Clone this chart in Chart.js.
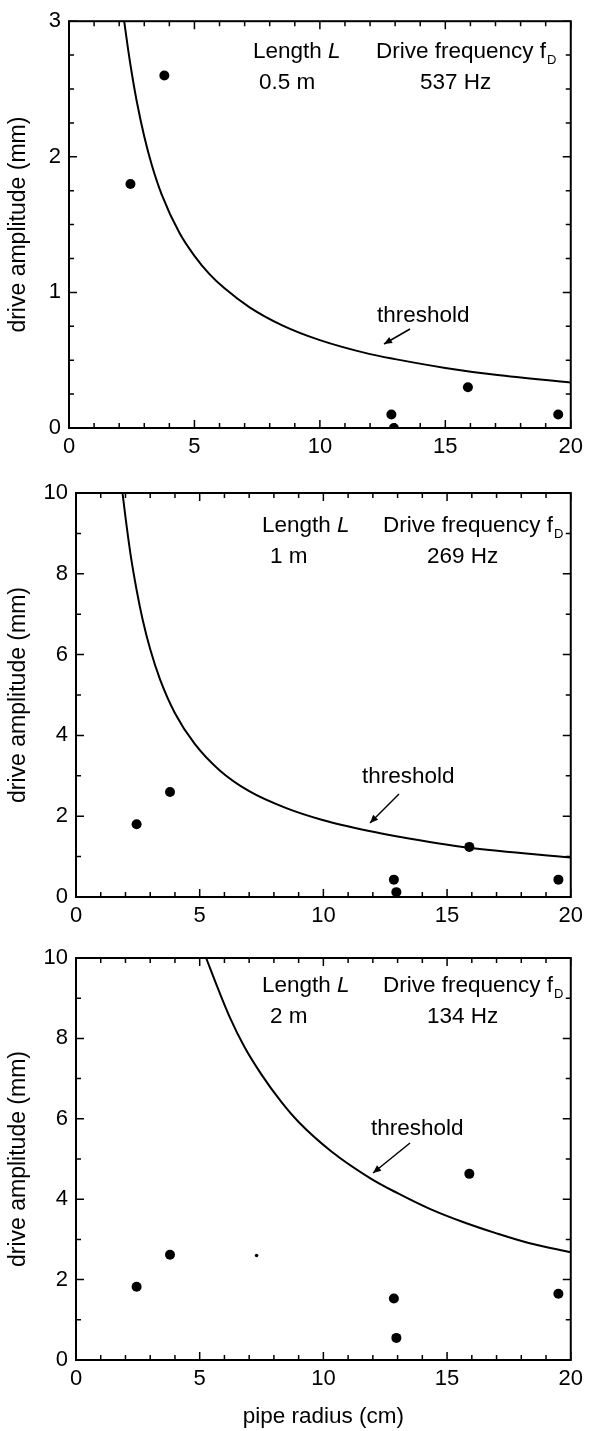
<!DOCTYPE html>
<html>
<head>
<meta charset="utf-8">
<script src="https://cdn.jsdelivr.net/npm/chart.js@4/dist/chart.umd.min.js"></script>
<style>
html,body{margin:0;padding:0;background:#fff;}
body{width:589px;height:1431px;position:relative;overflow:hidden;}
canvas{position:absolute;left:0;}
</style>
</head>
<body>
<canvas id="c1" width="589" height="470" style="top:0px"></canvas>
<canvas id="c2" width="589" height="465" style="top:470px"></canvas>
<canvas id="c3" width="589" height="496" style="top:935px"></canvas>
<script>
// ---------- data ----------
const xTickLabels = [0, 5, 10, 15, 20];
const panelLengths = ['0.5 m', '1 m', '2 m'];
const panelFreqs = ['537 Hz', '269 Hz', '134 Hz'];

// Panel 1: L = 0.5 m, fD = 537 Hz
const p1CurveRadius = [2.2, 2.35, 2.5, 2.7, 3.0, 3.3, 3.7, 4.4, 5.0, 5.6, 6.2, 7.2, 8.5, 10, 12, 13, 15, 17, 20];
const p1CurveAmp    = [3.0, 2.8, 2.62, 2.41, 2.15, 1.94, 1.72, 1.44, 1.27, 1.135, 1.03, 0.89, 0.757, 0.648, 0.545, 0.508, 0.443, 0.392, 0.336];
const p1PtRadius = [2.45, 3.8, 12.85, 12.95, 15.9, 19.5];
const p1PtAmp    = [1.8, 2.6, 0.1, 0.0, 0.3, 0.1];

// Panel 2: L = 1 m, fD = 269 Hz
const p2CurveRadius = [1.88, 2.0, 2.2, 2.45, 2.7, 3.0, 3.4, 4.0, 4.8, 5.8, 7.0, 8.5, 10, 11.8, 13, 15.9, 20];
const p2CurveAmp    = [10, 9.4, 8.5, 7.6, 6.85, 6.13, 5.38, 4.55, 3.79, 3.14, 2.62, 2.2, 1.9, 1.64, 1.5, 1.22, 0.98];
const p2PtRadius = [2.45, 3.8, 12.85, 12.95, 15.9, 19.5];
const p2PtAmp    = [1.8, 2.6, 0.43, 0.12, 1.24, 0.43];

// Panel 3: L = 2 m, fD = 134 Hz
const p3CurveRadius = [5.26, 5.7, 6.2, 6.8, 7.5, 8.3, 9.0, 10.3, 11.9, 13, 14.3, 15.7, 17, 18.3, 20];
const p3CurveAmp    = [10, 9.3, 8.55, 7.8, 7.1, 6.42, 5.92, 5.2, 4.52, 4.15, 3.76, 3.42, 3.15, 2.91, 2.68];
const p3PtRadius = [2.45, 3.8, 12.85, 12.95, 15.9, 19.5];
const p3PtAmp    = [1.82, 2.62, 1.53, 0.55, 4.63, 1.65];
const p3SpeckRadius = [7.3];
const p3SpeckAmp    = [2.6];

// ---------- rendering ----------
const FONT = "'Liberation Sans', Arial, Helvetica, sans-serif";
Chart.defaults.font.family = FONT;
Chart.defaults.color = '#000';

const toXY = (xs, ys) => xs.map((x, i) => ({x: x, y: ys[i]}));

const framePlugin = {
  id: 'frame',
  afterDraw(chart, args, opts) {
    const {ctx, chartArea: a} = chart;
    const xs = chart.scales.x, ys = chart.scales.y;
    const MAJ = 8, MIN = 5;
    ctx.save();
    ctx.strokeStyle = '#000';
    ctx.lineWidth = 1.5;
    ctx.beginPath();
    xs.ticks.forEach(t => {
      const p = xs.getPixelForValue(t.value);
      const len = (t.label !== '' && t.label != null) ? MAJ : MIN;
      ctx.moveTo(p, a.bottom); ctx.lineTo(p, a.bottom - len);
      ctx.moveTo(p, a.top); ctx.lineTo(p, a.top + len);
    });
    ys.ticks.forEach(t => {
      const p = ys.getPixelForValue(t.value);
      const len = (t.label !== '' && t.label != null) ? MAJ : MIN;
      ctx.moveTo(a.left, p); ctx.lineTo(a.left + len, p);
      ctx.moveTo(a.right, p); ctx.lineTo(a.right - len, p);
    });
    ctx.stroke();
    ctx.lineWidth = 2;
    ctx.strokeRect(a.left, a.top, a.right - a.left, a.bottom - a.top);

    const n = opts.notes;
    if (n) {
      const T = opts.top;
      ctx.fillStyle = '#000';
      ctx.textBaseline = 'alphabetic';
      ctx.textAlign = 'left';
      const F = 22.5;
      ctx.font = F + 'px ' + FONT;
      const w1 = ctx.measureText('Length ').width;
      ctx.fillText('Length ', n.lenX, n.base1 - T);
      ctx.font = 'italic ' + F + 'px ' + FONT;
      ctx.fillText('L', n.lenX + w1, n.base1 - T);
      ctx.font = F + 'px ' + FONT;
      ctx.fillText(n.len, n.valX, n.base2 - T);
      const w2 = ctx.measureText('Drive frequency f').width;
      ctx.fillText('Drive frequency f', n.freqX, n.base1 - T);
      ctx.font = '13px ' + FONT;
      ctx.fillText('D', n.freqX + w2 + 1, n.base1 - T + 6);
      ctx.font = F + 'px ' + FONT;
      ctx.fillText(n.freq, n.fvalX, n.base2 - T);
      ctx.fillText('threshold', n.thrX, n.thrY - T);
      // arrow
      const [x1, y1, x2, y2] = n.arrow;
      const Y1 = y1 - T, Y2 = y2 - T;
      ctx.lineWidth = 1.5;
      ctx.beginPath(); ctx.moveTo(x1, Y1); ctx.lineTo(x2, Y2); ctx.stroke();
      const ang = Math.atan2(Y2 - Y1, x2 - x1);
      const L = 8, W = 3.5;
      ctx.beginPath();
      ctx.moveTo(x2, Y2);
      ctx.lineTo(x2 - L * Math.cos(ang) + W * Math.sin(ang), Y2 - L * Math.sin(ang) - W * Math.cos(ang));
      ctx.lineTo(x2 - L * Math.cos(ang) - W * Math.sin(ang), Y2 - L * Math.sin(ang) + W * Math.cos(ang));
      ctx.closePath(); ctx.fill();
    }
    ctx.restore();
  }
};

function makePanel(cfg) {
  const datasets = [
    {data: toXY(cfg.curveX, cfg.curveY), showLine: true, borderColor: '#000', borderWidth: 2,
     pointRadius: 0, fill: false, cubicInterpolationMode: 'monotone'},
    {data: toXY(cfg.ptX, cfg.ptY), showLine: false, pointRadius: 5, pointBackgroundColor: '#000',
     pointBorderColor: '#000', pointBorderWidth: 0}
  ];
  if (cfg.speckX) {
    datasets.push({data: toXY(cfg.speckX, cfg.speckY), showLine: false, pointRadius: 1.8,
      pointBackgroundColor: '#000', pointBorderColor: '#000', pointBorderWidth: 0});
  }
  return new Chart(document.getElementById(cfg.id), {
    type: 'scatter',
    data: {datasets},
    options: {
      responsive: false, animation: false, events: [],
      layout: {padding: {left: 0, right: 14, top: cfg.padTop, bottom: 0}},
      plugins: {legend: {display: false}, tooltip: {enabled: false},
                frame: {notes: cfg.notes, top: cfg.top}},
      scales: {
        x: {
          type: 'linear', min: 0, max: 20,
          grid: {display: false, drawTicks: false},
          border: {display: false},
          ticks: {stepSize: 1, autoSkip: false, maxRotation: 0, padding: 6,
                  font: {size: 22}, color: '#000',
                  callback: v => xTickLabels.includes(v) ? String(v) : ''},
          title: {display: !!cfg.xTitle, text: 'pipe radius (cm)', font: {size: 22.5}, color: '#000',
                  padding: {top: 0, bottom: 1}},
          afterFit: s => { s.height = cfg.xH; }
        },
        y: {
          type: 'linear', min: 0, max: cfg.ymax,
          grid: {display: false, drawTicks: false},
          border: {display: false},
          ticks: {stepSize: cfg.ystep, autoSkip: false, padding: 8,
                  font: {size: 22}, color: '#000',
                  callback: v => cfg.yLabels.includes(v) ? String(v) : ''},
          title: {display: true, text: 'drive amplitude (mm)', font: {size: 23}, color: '#000',
                  padding: {top: 5, bottom: 0}},
          afterFit: s => { s.width = cfg.yW; }
        }
      }
    },
    plugins: [framePlugin]
  });
}

makePanel({id: 'c1', top: 0, padTop: 18, xH: 42, yW: 69, ymax: 3, ystep: 0.25, yLabels: [0, 1, 2, 3],
  curveX: p1CurveRadius, curveY: p1CurveAmp, ptX: p1PtRadius, ptY: p1PtAmp,
  notes: {len: panelLengths[0], freq: panelFreqs[0], lenX: 253, valX: 259, freqX: 376, fvalX: 420,
          base1: 58, base2: 89, thrX: 377, thrY: 322, arrow: [410, 329, 384, 344]}});

makePanel({id: 'c2', top: 470, padTop: 23, xH: 38, yW: 76, ymax: 10, ystep: 1, yLabels: [0, 2, 4, 6, 8, 10],
  curveX: p2CurveRadius, curveY: p2CurveAmp, ptX: p2PtRadius, ptY: p2PtAmp,
  notes: {len: panelLengths[1], freq: panelFreqs[1], lenX: 262, valX: 270, freqX: 383, fvalX: 427,
          base1: 532, base2: 563, thrX: 362, thrY: 783, arrow: [399, 794, 370, 823]}});

makePanel({id: 'c3', top: 935, padTop: 23, xH: 71, yW: 76, ymax: 10, ystep: 1, yLabels: [0, 2, 4, 6, 8, 10],
  xTitle: true,
  curveX: p3CurveRadius, curveY: p3CurveAmp, ptX: p3PtRadius, ptY: p3PtAmp,
  speckX: p3SpeckRadius, speckY: p3SpeckAmp,
  notes: {len: panelLengths[2], freq: panelFreqs[2], lenX: 262, valX: 270, freqX: 383, fvalX: 427,
          base1: 992, base2: 1023, thrX: 371, thrY: 1135, arrow: [410, 1143, 373, 1173]}});
</script>
</body>
</html>
